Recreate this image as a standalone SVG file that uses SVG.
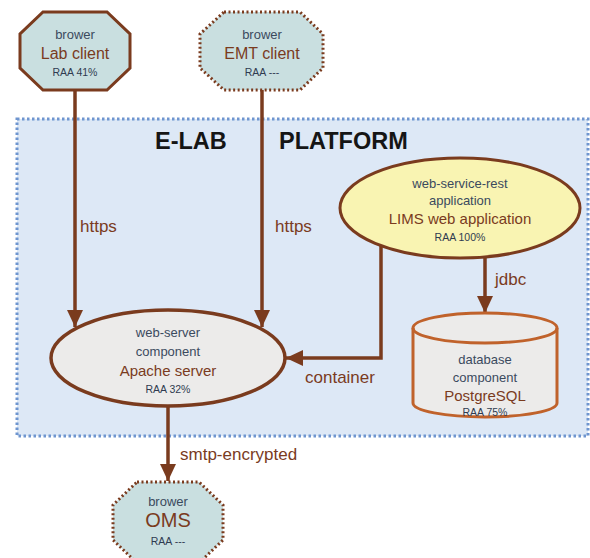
<svg xmlns="http://www.w3.org/2000/svg" width="590" height="558" viewBox="0 0 590 558">
<style>
  text { font-family: "Liberation Sans", Arial, sans-serif; text-anchor: middle; }
  .cat { font-size: 13px; fill: #3b4a5e; }
  .name { font-size: 15px; fill: #7a3b1e; }
  .cname { font-size: 16px; fill: #7a3b1e; }
  .raa { font-size: 10.5px; fill: #2f3b50; }
  .lbl { font-size: 17px; fill: #7a3b1e; text-anchor: start; }
  .title { font-size: 23.5px; font-weight: bold; fill: #151515; text-anchor: start; }
  .oct { fill: #c9dfe0; stroke: #7a3b1e; stroke-width: 3; }
  .dot { stroke-dasharray: 2 2.5; stroke-width: 3; }
  .conn { fill: none; stroke: #7a3b1e; stroke-width: 3.5; }
</style>
<defs>
  <marker id="arr" markerUnits="userSpaceOnUse" markerWidth="18" markerHeight="18" viewBox="0 0 18 18" refX="17" refY="9" orient="auto">
    <path d="M0,1 L17,9 L0,17 Z" fill="#7a3b1e"/>
  </marker>
</defs>
<rect width="590" height="558" fill="#ffffff"/>
<g id="platform">
  <rect x="17" y="119" width="571" height="317" fill="#dde8f6" stroke="#6f95cf" stroke-width="3" stroke-dasharray="2.5 2.5"/>
  <text class="title" x="155" y="149">E-LAB</text>
  <text class="title" x="279" y="149">PLATFORM</text>
</g>
<g id="connectors">
  <line class="conn" x1="75" y1="90" x2="75" y2="327" marker-end="url(#arr)"/>
  <line class="conn" x1="262" y1="90" x2="262" y2="327" marker-end="url(#arr)"/>
  <polyline class="conn" points="381,246 381,358 286,358" marker-end="url(#arr)"/>
  <line class="conn" x1="485" y1="258" x2="485" y2="313" marker-end="url(#arr)"/>
  <line class="conn" x1="168" y1="406" x2="168" y2="481" marker-end="url(#arr)"/>
  <text class="lbl" x="80" y="232">https</text>
  <text class="lbl" x="275" y="232">https</text>
  <text class="lbl" x="305" y="383">container</text>
  <text class="lbl" x="495" y="285">jdbc</text>
  <text class="lbl" x="180" y="460">smtp-encrypted</text>
</g>
<g id="lab-client">
  <polygon class="oct" points="43,12 107,12 130,34 130,68 107,90 43,90 20,68 20,34"/>
  <text class="cat" x="75" y="39">brower</text>
  <text class="cname" x="75" y="59">Lab client</text>
  <text class="raa" x="75" y="76">RAA 41%</text>
</g>
<g id="emt-client">
  <polygon class="oct dot" points="224,12 300,12 323,34 323,68 300,90 224,90 200,68 200,34"/>
  <text class="cat" x="262" y="39">brower</text>
  <text class="cname" x="262" y="59">EMT client</text>
  <text class="raa" x="262" y="76">RAA ---</text>
</g>
<g id="lims">
  <ellipse cx="460" cy="208" rx="120" ry="50" fill="#f9f4b2" stroke="#7a3b1e" stroke-width="3"/>
  <text class="cat" x="460" y="188">web-service-rest</text>
  <text class="cat" x="460" y="205">application</text>
  <text class="name" x="460" y="224">LIMS web application</text>
  <text class="raa" x="460" y="241">RAA 100%</text>
</g>
<g id="apache">
  <ellipse cx="168" cy="358" rx="117" ry="48" fill="#ecebea" stroke="#7a3b1e" stroke-width="3.5"/>
  <text class="cat" x="168" y="337">web-server</text>
  <text class="cat" x="168" y="356">component</text>
  <text class="name" x="168" y="376">Apache server</text>
  <text class="raa" x="168" y="393">RAA 32%</text>
</g>
<g id="postgres">
  <path d="M413,328 L413,403 A72,14 0 0 0 557,403 L557,328 A72,15 0 0 0 413,328 Z" fill="#ecebea" stroke="#c0622b" stroke-width="3"/>
  <path d="M413,328 A72,15 0 0 0 557,328" fill="none" stroke="#c0622b" stroke-width="3"/>
  <text class="cat" x="485" y="364">database</text>
  <text class="cat" x="485" y="382">component</text>
  <text class="name" x="485" y="401">PostgreSQL</text>
  <text class="raa" x="485" y="416">RAA 75%</text>
</g>
<g id="oms">
  <polygon class="oct dot" points="137,482 199,482 223,505 223,540 199,563 137,563 113,540 113,505"/>
  <text class="cat" x="168" y="506">brower</text>
  <text class="name" x="168" y="527" style="font-size:20px">OMS</text>
  <text class="raa" x="168" y="545">RAA ---</text>
</g>
</svg>
